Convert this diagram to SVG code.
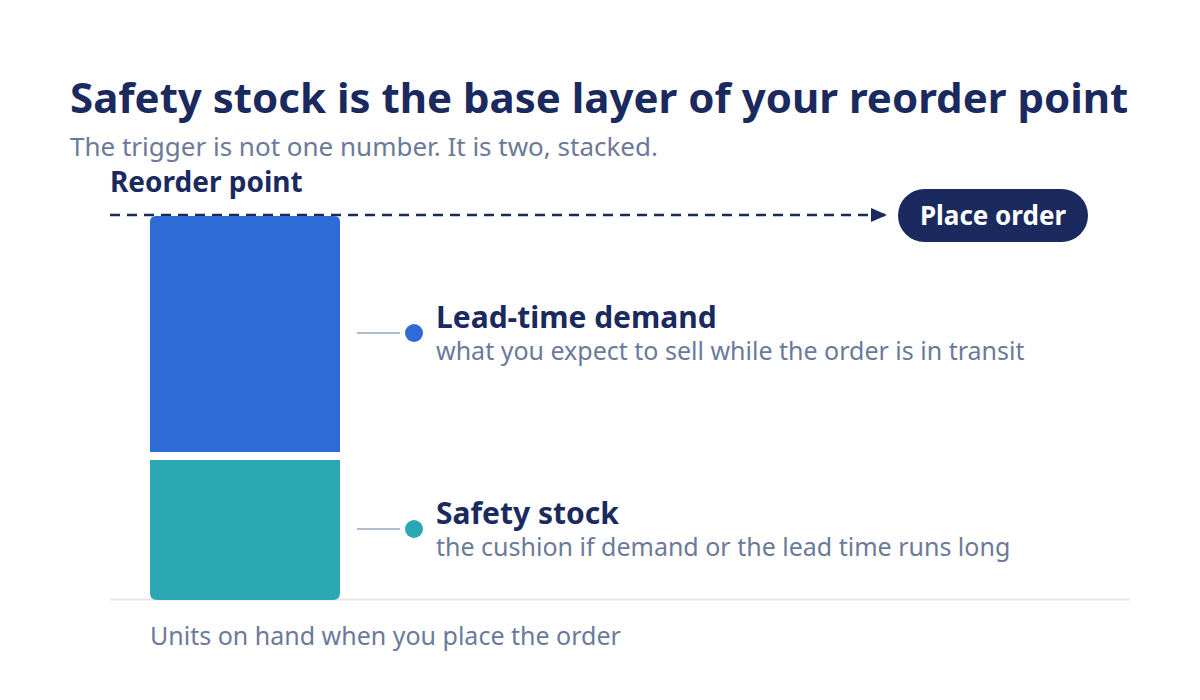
<svg xmlns="http://www.w3.org/2000/svg" width="1200" height="700" viewBox="0 0 1200 700">
<defs>
<style>
.t{font-family:"Noto Sans","Open Sans","DejaVu Sans",sans-serif;}
.title{font-size:42px;font-weight:700;fill:#1b2a5e;}
.sub{font-size:25px;fill:#6b7a9a;}
.sub26{font-size:26px;fill:#6b7a9a;}
.lbl{font-size:28px;font-weight:700;fill:#1b2a5e;}
.h{font-size:30px;font-weight:700;fill:#1b2a5e;}
.leader{stroke:#b3bccb;stroke-width:2;}
</style>
<marker id="arr" viewBox="0 0 16 14" refX="16" refY="7" markerWidth="16" markerHeight="14" markerUnits="userSpaceOnUse" orient="auto">
<path d="M0,0 L16,7 L0,14 Z" fill="#1b2a5e"/>
</marker>
</defs>
<rect width="1200" height="700" fill="#ffffff"/>
<text class="t title" x="70" y="113">Safety stock is the base layer of your reorder point</text>
<text class="t sub26" x="70" y="156">The trigger is not one number. It is two, stacked.</text>
<text class="t lbl" x="110" y="192">Reorder point</text>
<g id="connectors">
<line x1="110" y1="215" x2="887" y2="215" stroke="#1b2a5e" stroke-width="2.5" stroke-dasharray="10,7" marker-end="url(#arr)"/>
<line class="leader" x1="357" y1="333" x2="400" y2="333"/>
<line class="leader" x1="357" y1="529" x2="400" y2="529"/>
</g>
<line x1="110" y1="599.5" x2="1130" y2="599.5" stroke="#e3e7f0" stroke-width="2"/>
<g id="lead-time-bar">
<path d="M150,452 V222 Q150,216 156,216 H334 Q340,216 340,222 V452 Z" fill="#2e6bd6"/>
</g>
<g id="safety-bar">
<path d="M150,460 H340 V593 Q340,600 333,600 H157 Q150,600 150,593 Z" fill="#2ca8b4"/>
</g>
<g id="place-order">
<rect x="898" y="189" width="190" height="53" rx="26.5" fill="#1b2a5e"/>
<text class="t" x="993" y="225" text-anchor="middle" font-size="26" font-weight="700" fill="#ffffff">Place order</text>
</g>
<g id="lead-time-label">
<circle cx="414" cy="333" r="9" fill="#2e6bd6"/>
<text class="t h" x="436" y="328">Lead-time demand</text>
<text class="t sub" x="436" y="360">what you expect to sell while the order is in transit</text>
</g>
<g id="safety-label">
<circle cx="414" cy="529" r="9" fill="#2ca8b4"/>
<text class="t h" x="436" y="524">Safety stock</text>
<text class="t sub" x="436" y="556">the cushion if demand or the lead time runs long</text>
</g>
<text class="t sub" x="150" y="645">Units on hand when you place the order</text>
</svg>
